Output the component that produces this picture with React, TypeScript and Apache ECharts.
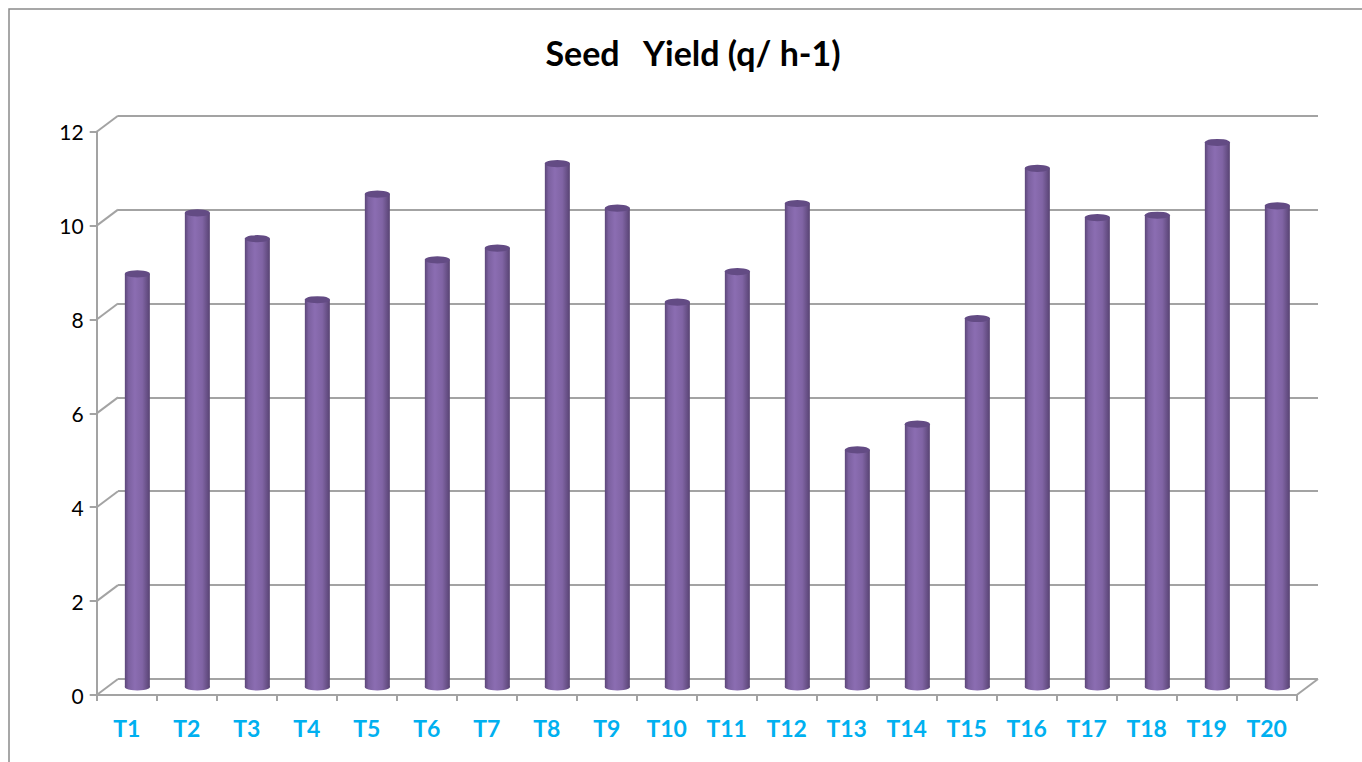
import React, { useEffect, useRef } from "react";
import * as echarts from "echarts";

const categories = ["T1", "T2", "T3", "T4", "T5", "T6", "T7", "T8", "T9", "T10", "T11", "T12", "T13", "T14", "T15", "T16", "T17", "T18", "T19", "T20"];
const seedYield = [8.8, 10.1, 9.55, 8.25, 10.5, 9.1, 9.35, 11.15, 10.2, 8.2, 8.85, 10.3, 5.05, 5.6, 7.85, 11.05, 10.0, 10.05, 11.6, 10.25];
const yTicks = [0, 2, 4, 6, 8, 10, 12];
const titleText = "Seed   Yield (q/ h-1)";

const Y_MIN = 0;
const Y_MAX = 12;
const Y_STEP = 2;

// layout (pixels)
const FRONT_LEFT = 96.7;
const FRONT_TOP = 131.7;
const PLOT_W = 1200;
const PLOT_H = 563.3;
const DEPTH_DX = 21.3;
const DEPTH_DY = -16;
const GRID_COLOR = "#a3a3a3";
const FONT = "Lato, 'Open Sans', sans-serif";

export default function App() {
  const ref = useRef<HTMLDivElement>(null);

  useEffect(() => {
    if (!ref.current) return;
    const chart = echarts.init(ref.current, undefined, { renderer: "svg" });

    const gridFront = { left: FRONT_LEFT, top: FRONT_TOP, width: PLOT_W, height: PLOT_H };
    const gridBack = { left: FRONT_LEFT + DEPTH_DX, top: FRONT_TOP + DEPTH_DY, width: PLOT_W, height: PLOT_H };
    const gridMid = { left: FRONT_LEFT + DEPTH_DX / 2, top: FRONT_TOP + DEPTH_DY / 2, width: PLOT_W, height: PLOT_H };

    const bodyGradient = new echarts.graphic.LinearGradient(0, 0, 1, 0, [
      { offset: 0, color: "#5c4679" },
      { offset: 0.15, color: "#7c61a0" },
      { offset: 0.4, color: "#8b6db2" },
      { offset: 0.7, color: "#8064a4" },
      { offset: 1, color: "#584373" },
    ]);

    const wallLines = [
      ...yTicks.map((v) => [0, v, -1]),
      [categories.length - 1, 0, 1],
    ];

    const option: any = {
      animation: false,
      backgroundColor: "#ffffff",
      graphic: [
        {
          type: "rect",
          shape: { x: 9, y: 9, width: 1420, height: 820 },
          style: { fill: "none", stroke: "#8a8a8a", lineWidth: 1.5 },
          silent: true,
          z: 0,
        },
        {
          type: "text",
          x: 693,
          y: 52,
          style: {
            text: titleText,
            fill: "#000000",
            font: `bold 34px ${FONT}`,
            textAlign: "center",
            textVerticalAlign: "middle",
          },
        },
      ],
      grid: [
        { ...gridFront, containLabel: false },
        { ...gridBack, containLabel: false },
        { ...gridMid, containLabel: false },
      ],
      xAxis: [
        {
          gridIndex: 0,
          type: "category",
          data: categories,
          boundaryGap: true,
          axisLine: { show: true, lineStyle: { color: GRID_COLOR, width: 2 } },
          axisTick: { show: true, interval: 0, length: 6, lineStyle: { color: GRID_COLOR, width: 2 } },
          axisLabel: {
            interval: 0,
            color: "#00b0f0",
            fontWeight: "bold",
            fontSize: 23,
            fontFamily: FONT,
            margin: 21,
          },
          splitLine: { show: false },
        },
        {
          gridIndex: 1,
          type: "category",
          data: categories,
          show: false,
        },
        {
          gridIndex: 2,
          type: "category",
          data: categories,
          show: false,
        },
      ],
      yAxis: [
        {
          gridIndex: 0,
          type: "value",
          min: Y_MIN,
          max: Y_MAX,
          interval: Y_STEP,
          axisLine: { show: true, lineStyle: { color: GRID_COLOR, width: 2 } },
          axisTick: { show: true, length: 7, lineStyle: { color: GRID_COLOR, width: 2 } },
          axisLabel: { color: "#000000", fontSize: 21, fontFamily: FONT, margin: 13 },
          splitLine: { show: false },
        },
        {
          gridIndex: 1,
          type: "value",
          min: Y_MIN,
          max: Y_MAX,
          interval: Y_STEP,
          axisLine: { show: false },
          axisTick: { show: false },
          axisLabel: { show: false },
          splitLine: { show: true, lineStyle: { color: GRID_COLOR, width: 2 } },
        },
        {
          gridIndex: 2,
          type: "value",
          min: Y_MIN,
          max: Y_MAX,
          interval: Y_STEP,
          show: false,
          splitLine: { show: false },
        },
      ],
      series: [
        {
          type: "custom",
          xAxisIndex: 0,
          yAxisIndex: 0,
          data: wallLines,
          silent: true,
          z: 1,
          renderItem: (params: any, api: any) => {
            const idx = api.value(0);
            const v = api.value(1);
            const side = api.value(2);
            const p = api.coord([idx, v]);
            const half = api.size([1, 0])[0] / 2;
            const x0 = p[0] + side * half;
            return {
              type: "line",
              shape: { x1: x0, y1: p[1], x2: x0 + DEPTH_DX, y2: p[1] + DEPTH_DY },
              style: { stroke: GRID_COLOR, lineWidth: 2 },
            };
          },
        },
        {
          type: "bar",
          name: "Seed Yield",
          xAxisIndex: 2,
          yAxisIndex: 2,
          data: seedYield,
          barWidth: 25,
          itemStyle: { color: bodyGradient },
          z: 3,
        },
        {
          type: "pictorialBar",
          xAxisIndex: 2,
          yAxisIndex: 2,
          data: seedYield,
          symbol: "circle",
          symbolSize: [25, 7],
          symbolPosition: "start",
          symbolOffset: [0, "50%"],
          itemStyle: { color: bodyGradient },
          z: 2,
        },
        {
          type: "pictorialBar",
          xAxisIndex: 2,
          yAxisIndex: 2,
          data: seedYield,
          symbol: "circle",
          symbolSize: [25, 7],
          symbolPosition: "end",
          symbolOffset: [0, "-50%"],
          itemStyle: { color: "#634b84" },
          z: 4,
        },
      ],
    };

    chart.setOption(option);
    return () => chart.dispose();
  }, []);

  return (
    <div
      ref={ref}
      style={{ position: "fixed", left: 0, top: 0, width: 1362, height: 762, background: "#fff" }}
    />
  );
}
